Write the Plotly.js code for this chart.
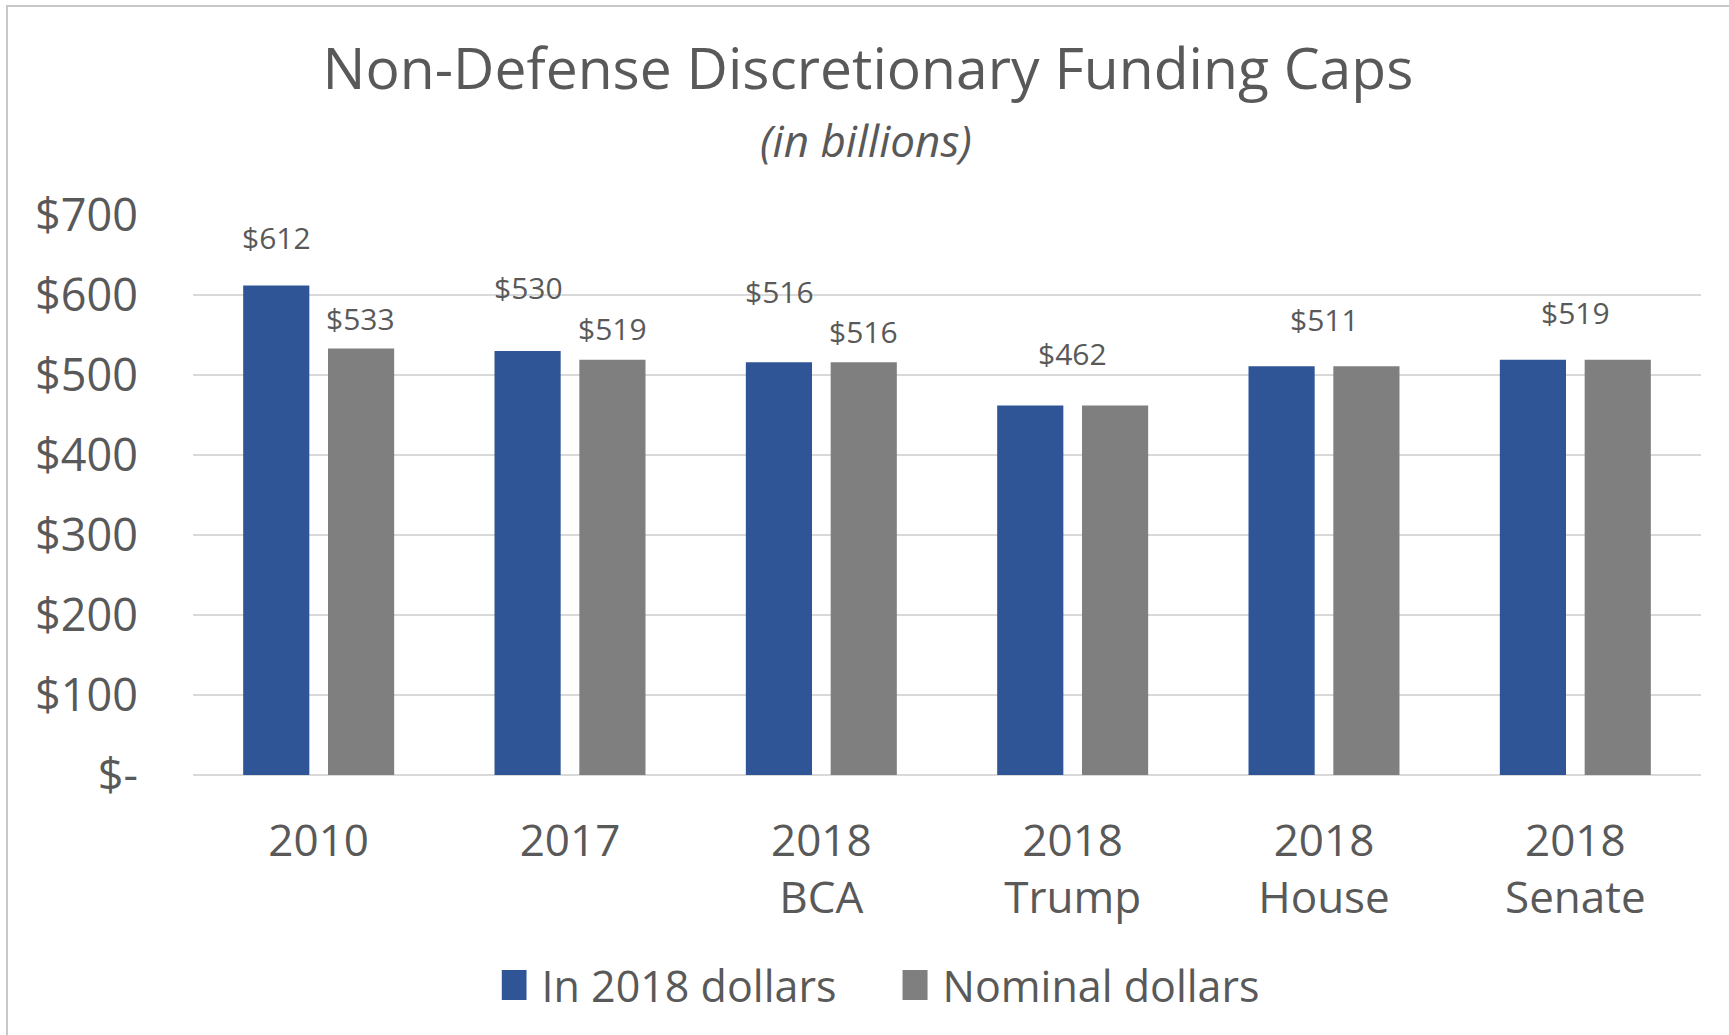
<!DOCTYPE html>
<html>
<head>
<meta charset="utf-8">
<script src="https://cdn.plot.ly/plotly-3.0.1.min.js"></script>
<style>
  html, body { margin: 0; padding: 0; background: #fff; }
  #wrap { position: relative; width: 1729px; height: 1035px; overflow: hidden; }
  #frame { position: absolute; left: 6px; top: 5px; width: 1740px; height: 1040px;
           border-top: 2px solid #C8C8C8; border-left: 2px solid #C8C8C8; pointer-events: none; }
  #chart { position: absolute; left: 0; top: 0; width: 1729px; height: 1035px; }
</style>
</head>
<body>
<div id="wrap">
  <div id="chart"></div>
  <div id="frame"></div>
</div>
<script>
// ---- Data ----
const categories = ['2010', '2017', '2018<br>BCA', '2018<br>Trump', '2018<br>House', '2018<br>Senate'];
const real2018 = [612, 530, 516, 462, 511, 519];
const nominal = [533, 519, 516, 462, 511, 519];
const seriesNames = ['In 2018 dollars', 'Nominal dollars'];
const yTickVals = [0, 100, 200, 300, 400, 500, 600, 700];
const yTickText = ['$-', '$100', '$200', '$300', '$400', '$500', '$600', '$700'];

// ---- Label placement (style) ----
// 'pair' = one label over each bar; 'center' = single label over the group
const labelMode = ['pair', 'pair', 'pair', 'center', 'center', 'center'];
const blueShift = [48, 64, 71, 52, 47, 47];
const grayShift = [30, 31, 31, 0, 0, 0];
const barOffsetPx = 42;

const textColor = '#595959';
const font = 'Open Sans, Lato, sans-serif';

const traces = [
  { type: 'bar', name: seriesNames[0], x: categories, y: real2018,
    marker: { color: '#2F5597' }, hoverinfo: 'x+y' },
  { type: 'bar', name: seriesNames[1], x: categories, y: nominal,
    marker: { color: '#7F7F7F' }, hoverinfo: 'x+y' }
];

const labelFont = { family: font, size: 30, color: textColor };
const annotations = [];
categories.forEach((c, i) => {
  if (labelMode[i] === 'pair') {
    annotations.push({ x: i, y: real2018[i], xref: 'x', yref: 'y', text: '$' + real2018[i],
      showarrow: false, xshift: -barOffsetPx, yshift: blueShift[i], yanchor: 'middle', font: labelFont });
    annotations.push({ x: i, y: nominal[i], xref: 'x', yref: 'y', text: '$' + nominal[i],
      showarrow: false, xshift: barOffsetPx, yshift: grayShift[i], yanchor: 'middle', font: labelFont });
  } else {
    annotations.push({ x: i, y: Math.max(real2018[i], nominal[i]), xref: 'x', yref: 'y', text: '$' + real2018[i],
      showarrow: false, xshift: 0, yshift: blueShift[i], yanchor: 'middle', font: labelFont });
  }
});
annotations.push({ text: '<i>(in billions)</i>', xref: 'paper', yref: 'paper',
  x: (866 - 193) / 1508, y: (775 - 140) / 560, xanchor: 'center', yanchor: 'middle', showarrow: false,
  font: { family: font, size: 44, color: textColor } });

const layout = {
  width: 1729, height: 1035,
  margin: { l: 193, r: 28, t: 215, b: 260 },
  paper_bgcolor: '#ffffff', plot_bgcolor: '#ffffff',
  font: { family: font, color: textColor },
  title: { text: 'Non-Defense Discretionary Funding Caps', xref: 'container', x: 0.502,
    yref: 'container', y: 1 - 69 / 1035, yanchor: 'middle', xanchor: 'center',
    font: { family: font, size: 57, color: textColor } },
  barmode: 'group', bargap: 0.325, bargroupgap: 0.22,
  xaxis: { type: 'category', showgrid: false, ticks: '', showline: false,
    tickfont: { family: font, size: 44, color: textColor }, ticklabelstandoff: 36 },
  yaxis: { range: [0, 700], tickvals: yTickVals, ticktext: yTickText, showgrid: true,
    gridcolor: '#D9D9D9', gridwidth: 1.5, zeroline: true, zerolinecolor: '#D9D9D9', zerolinewidth: 1.5,
    showline: false, ticks: '', tickfont: { family: font, size: 45, color: textColor }, ticklabelstandoff: 54 },
  showlegend: true,
  legend: { orientation: 'h', xref: 'container', yref: 'container', x: 0.522, xanchor: 'center',
    y: 1 - 985 / 1035, yanchor: 'middle', font: { family: font, size: 43, color: textColor },
    entrywidth: 356, traceorder: 'normal' },
  annotations: annotations
};

Plotly.newPlot('chart', traces, layout, { displayModeBar: false, staticPlot: true }).then(gd => {
  // enlarge legend swatches to match the reference's tall rectangles
  gd.querySelectorAll('.legend .legendpoints path').forEach(p => {
    p.setAttribute('d', 'M5,-15H-20V15H5Z');
  });
});
</script>
</body>
</html>
